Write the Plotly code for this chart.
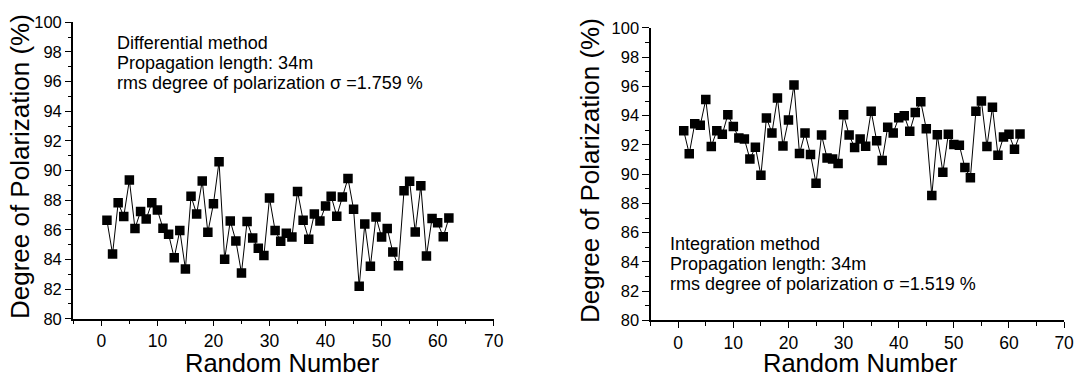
import plotly.graph_objects as go

random_number = list(range(1, 63))

dop_differential = [
    86.64, 84.37, 87.82, 86.90, 89.36, 86.09, 87.24, 86.73, 87.82, 87.33,
    86.11, 85.70, 84.11, 85.96, 83.36, 88.27, 87.07, 89.30, 85.83, 87.76,
    90.59, 84.01, 86.60, 85.25, 83.09, 86.56, 85.44, 84.76, 84.26, 88.14,
    85.96, 85.23, 85.76, 85.51, 88.59, 86.64, 85.36, 87.07, 86.60, 87.61,
    88.27, 86.92, 88.21, 89.47, 87.39, 82.19, 86.39, 83.54, 86.86, 85.51,
    86.09, 84.50, 83.58, 88.64, 89.28, 85.85, 88.98, 84.24, 86.77, 86.47,
    85.53, 86.79,
]

dop_integration = [
    92.97, 91.39, 93.45, 93.34, 95.10, 91.89, 92.97, 92.73, 94.06, 93.25,
    92.47, 92.41, 91.04, 91.84, 89.93, 93.84, 92.82, 95.21, 91.93, 93.71,
    96.10, 91.41, 92.82, 91.35, 89.37, 92.67, 91.11, 91.04, 90.72, 94.06,
    92.67, 91.82, 92.41, 91.91, 94.30, 92.28, 90.93, 93.21, 92.82, 93.86,
    93.99, 92.93, 94.21, 94.95, 93.10, 88.54, 92.69, 90.13, 92.73, 92.02,
    91.97, 90.45, 89.76, 94.30, 95.00, 91.89, 94.58, 91.30, 92.54, 92.73,
    91.71, 92.75,
]

left_text = ["Differential method", "Propagation length: 34m",
             "rms degree of polarization σ =1.759 %"]
right_text = ["Integration method", "Propagation length: 34m",
              "rms degree of polarization σ =1.519 %"]

FONT = "Liberation Sans, Arial, sans-serif"
W, H = 1086, 383

fig = go.Figure()
for ys, xa, ya in [(dop_differential, "x", "y"), (dop_integration, "x2", "y2")]:
    fig.add_trace(go.Scatter(
        x=random_number, y=ys, xaxis=xa, yaxis=ya, mode="lines+markers",
        line=dict(color="black", width=1),
        marker=dict(symbol="square", size=9.5, color="black"),
        showlegend=False,
    ))

def xaxis_style(domain, anchor):
    return dict(
        domain=domain, anchor=anchor, range=[-5, 70], tick0=0, dtick=10,
        ticks="outside", ticklen=6, tickwidth=1.3, tickcolor="black",
        minor=dict(dtick=5, ticks="outside", ticklen=3.5, tickwidth=1.3, tickcolor="black"),
        showline=True, linecolor="black", linewidth=1.5, showgrid=False, zeroline=False,
        tickfont=dict(family=FONT, size=17.5, color="black"),
    )

def yaxis_style(domain, anchor):
    return dict(
        domain=domain, anchor=anchor, range=[80, 100], tick0=80, dtick=2,
        ticks="outside", ticklen=6.5, tickwidth=1.3, tickcolor="black",
        minor=dict(dtick=1, ticks="outside", ticklen=3.5, tickwidth=1.3, tickcolor="black"),
        showline=True, linecolor="black", linewidth=1.5, showgrid=False, zeroline=False,
        tickfont=dict(family=FONT, size=16.5, color="black"),
    )

fig.update_layout(
    width=W, height=H, margin=dict(l=0, r=0, t=0, b=0),
    paper_bgcolor="white", plot_bgcolor="white",
    xaxis=xaxis_style([74 / W, 498.3 / W], "y"),
    yaxis=yaxis_style([(H - 325) / H, (H - 14) / H], "x"),
    xaxis2=xaxis_style([656.7 / W, 1074 / W], "y2"),
    yaxis2=yaxis_style([(H - 326.8) / H, (H - 19.8) / H], "x2"),
)

anns = []
for i, t in enumerate(left_text):
    anns.append(dict(x=116 / W, y=(H - (36 + 21 * i)) / H, text=t))
for i, t in enumerate(right_text):
    anns.append(dict(x=674.5 / W, y=(H - (246.5 + 20.8 * i)) / H, text=t))
for a in anns:
    fig.add_annotation(xref="paper", yref="paper", xanchor="left", yanchor="middle",
                       showarrow=False, font=dict(family=FONT, size=18, color="black"), **a)

for x, y in [(285, 371.5), (868, 371.5)]:
    fig.add_annotation(x=x / W, y=(H - y) / H, xref="paper", yref="paper",
                       text="Random Number", showarrow=False,
                       xanchor="center", yanchor="middle",
                       font=dict(family=FONT, size=25.5, color="black"))
for x, y in [(20, 165), (595.5, 170)]:
    fig.add_annotation(x=x / W, y=(H - y) / H, xref="paper", yref="paper",
                       text="Degree of Polarization (%)", showarrow=False, textangle=-90,
                       xanchor="center", yanchor="middle",
                       font=dict(family=FONT, size=26, color="black"))

fig.write_html("out.html")
